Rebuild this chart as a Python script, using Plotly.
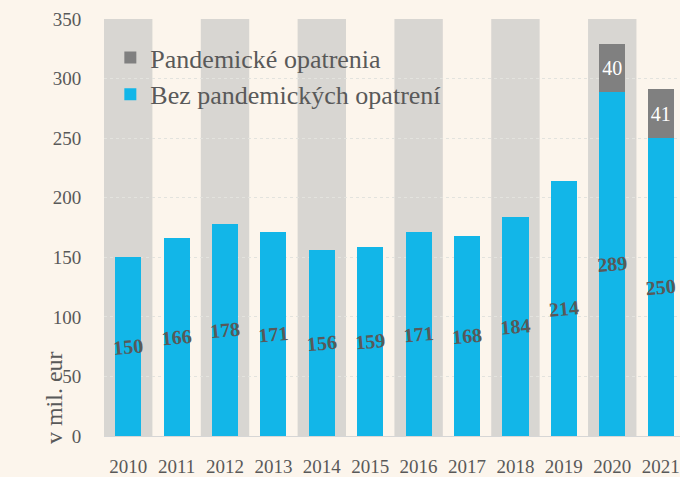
import plotly.graph_objects as go

years = [2010, 2011, 2012, 2013, 2014, 2015, 2016, 2017, 2018, 2019, 2020, 2021]
bez = [150, 166, 178, 171, 156, 159, 171, 168, 184, 214, 289, 250]
pandemic = [None, None, None, None, None, None, None, None, None, None, 40, 41]
shaded_years = [2010, 2012, 2014, 2016, 2018, 2020]
y_ticks = [0, 50, 100, 150, 200, 250, 300, 350]

BG = "#FCF5EC"
BLUE = "#12B6E8"
GRAY = "#808080"
BAND = "#D8D6D2"
TXT = "#595959"
FONT = "Liberation Serif"

fig = go.Figure()
fig.add_trace(go.Bar(
    x=years, y=bez, name="Bez pandemických opatrení",
    marker=dict(color=BLUE, line=dict(width=0)), width=0.54,
    text=[str(v) for v in bez], textposition="inside", insidetextanchor="middle",
    textangle=-5,
    textfont=dict(family=FONT, size=20, color=TXT, weight="bold"),
))
fig.add_trace(go.Bar(
    x=years, y=pandemic, name="Pandemické opatrenia",
    marker=dict(color=GRAY, line=dict(width=0)), width=0.54,
    text=[("" if v is None else str(v)) for v in pandemic], textposition="inside",
    insidetextanchor="middle", textangle=0,
    textfont=dict(family=FONT, size=20, color="white"),
))

for yr in shaded_years:
    fig.add_shape(type="rect", xref="x", yref="y", x0=yr - 0.5, x1=yr + 0.5,
                  y0=0, y1=350, fillcolor=BAND, line=dict(width=0), layer="below")

fig.add_annotation(text="v mil. eur", xref="paper", yref="paper", x=-0.087, y=0.093,
                   xanchor="center", yanchor="middle",
                   textangle=-90, showarrow=False,
                   font=dict(family=FONT, size=24, color=TXT))

fig.update_layout(
    width=680, height=477,
    margin=dict(l=104, r=0, t=19, b=39),
    paper_bgcolor=BG, plot_bgcolor=BG,
    barmode="stack",
    uniformtext=dict(minsize=20, mode="show"),
    font=dict(family=FONT, color=TXT),
    legend=dict(x=0.011, y=0.964, xanchor="left", yanchor="top",
                bgcolor="rgba(0,0,0,0)", traceorder="reversed",
                font=dict(family=FONT, size=26, color=TXT)),
    showlegend=True,
)
fig.update_xaxes(range=[2009.5, 2021.4], tickvals=years, ticktext=[str(y) for y in years],
                 tickfont=dict(family=FONT, size=19, color=TXT), showgrid=False,
                 ticks="outside", ticklen=13, tickcolor="rgba(0,0,0,0)",
                 showline=False, zeroline=False)
fig.update_yaxes(range=[0, 350], tickvals=y_ticks, tickfont=dict(family=FONT, size=19, color=TXT),
                 showgrid=True, gridcolor="#E3E3DE", griddash="dot", gridwidth=1,
                 zeroline=True, zerolinecolor="#D6D6D6", zerolinewidth=1,
                 ticks="outside", ticklen=18, tickcolor="rgba(0,0,0,0)", showline=False)

fig.write_html(
    "out.html",
    config={"displayModeBar": False},
    post_script="document.body.style.margin='0';document.body.style.overflow='hidden';"
                "document.body.style.background='#FCF5EC';",
)
